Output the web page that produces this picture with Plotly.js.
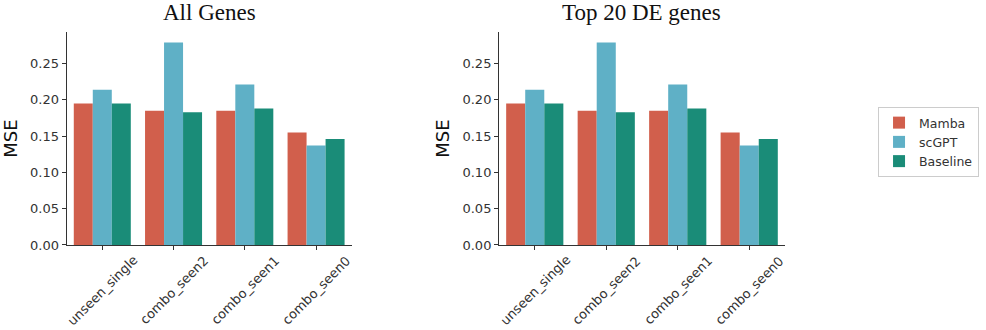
<!DOCTYPE html>
<html>
<head>
<meta charset="utf-8">
<script src="https://cdn.plot.ly/plotly-3.0.1.min.js"></script>
<style>
  body { margin: 0; background: #fff; }
  #chart { width: 986px; height: 330px; }
</style>
</head>
<body>
<div id="chart"></div>
<script>
// data --------------------------------------------------------------
const categories = ['unseen_single', 'combo_seen2', 'combo_seen1', 'combo_seen0'];
const seriesNames = ['Mamba', 'scGPT', 'Baseline'];
const seriesColors = ['#D15F4C', '#5FB0C6', '#1A8C78'];

// All Genes panel
const allMamba    = [0.195, 0.185, 0.185, 0.155];
const allScGPT    = [0.214, 0.279, 0.221, 0.137];
const allBaseline = [0.195, 0.183, 0.188, 0.146];

// Top 20 DE genes panel
const topMamba    = [0.195, 0.185, 0.185, 0.155];
const topScGPT    = [0.214, 0.279, 0.221, 0.137];
const topBaseline = [0.195, 0.183, 0.188, 0.146];

const yTicks = [0, 0.05, 0.10, 0.15, 0.20, 0.25];
const yTickText = ['0.00', '0.05', '0.10', '0.15', '0.20', '0.25'];
const panelTitles = ['All Genes', 'Top 20 DE genes'];

// build traces -------------------------------------------------------
const panels = [
    {vals: [allMamba, allScGPT, allBaseline], xa: 'x', ya: 'y', legend: true},
    {vals: [topMamba, topScGPT, topBaseline], xa: 'x2', ya: 'y2', legend: false}
];

var data = [];
panels.forEach((p) => {
    p.vals.forEach((v, i) => {
        data.push({
            type: 'bar',
            x: categories,
            y: v,
            name: seriesNames[i],
            xaxis: p.xa,
            yaxis: p.ya,
            showlegend: p.legend,
            legendgroup: seriesNames[i],
            marker: {color: seriesColors[i], line: {width: 0}},
            hoverinfo: 'x+y+name'
        });
    });
});

const tickFont = {family: 'DejaVu Sans', size: 13, color: '#333'};

// rotated category labels, centred under each tick (matplotlib style)
var annotations = [];
panels.forEach((p) => {
    categories.forEach((c) => {
        annotations.push({
            text: c, xref: p.xa, yref: 'paper', x: c, y: 1 - 290 / 330,
            xanchor: 'center', yanchor: 'middle', textangle: -45,
            showarrow: false, font: tickFont
        });
    });
});
// panel titles
[0.2121, 0.6511].forEach((xp, i) => {
    annotations.push({
        text: panelTitles[i], xref: 'paper', yref: 'paper', x: xp, y: 1 - 12 / 330,
        xanchor: 'center', yanchor: 'middle', showarrow: false,
        font: {family: 'Liberation Serif', size: 23, color: '#111'}
    });
});

const xAxisBase = {
    type: 'category',
    range: [-0.5, 3.5],
    showgrid: false,
    zeroline: false,
    showline: true,
    linecolor: '#333',
    linewidth: 1,
    ticks: 'outside',
    ticklen: 4,
    tickcolor: '#333',
    showticklabels: false,
    fixedrange: true
};

const yAxisBase = {
    range: [0, 0.2934],
    domain: [0.2576, 0.903],
    showgrid: false,
    zeroline: false,
    showline: true,
    linecolor: '#333',
    linewidth: 1,
    ticks: 'outside',
    ticklen: 4,
    tickcolor: '#333',
    tickvals: yTicks,
    ticktext: yTickText,
    tickfont: tickFont,
    title: {text: 'MSE', font: {family: 'DejaVu Sans', size: 18, color: '#111'}, standoff: 8},
    fixedrange: true
};

var layout = {
    width: 986,
    height: 330,
    margin: {l: 0, r: 0, t: 0, b: 0},
    paper_bgcolor: '#fff',
    plot_bgcolor: '#fff',
    barmode: 'group',
    bargap: 0.2,
    bargroupgap: 0,
    xaxis: Object.assign({}, xAxisBase, {domain: [0.0676, 0.3567], anchor: 'y'}),
    yaxis: Object.assign({}, yAxisBase, {anchor: 'x'}),
    xaxis2: Object.assign({}, xAxisBase, {domain: [0.5061, 0.7961], anchor: 'y2'}),
    yaxis2: Object.assign({}, yAxisBase, {anchor: 'x2'}),
    annotations: annotations,
    legend: {
        x: 0.8905,
        y: 1 - 107 / 330,
        xanchor: 'left',
        yanchor: 'top',
        bordercolor: '#ccc',
        borderwidth: 1,
        bgcolor: '#fff',
        font: {family: 'DejaVu Sans', size: 12.5, color: '#333'},
        tracegroupgap: 0
    },
    hovermode: 'closest'
};

Plotly.newPlot('chart', data, layout, {displayModeBar: false});
</script>
</body>
</html>
